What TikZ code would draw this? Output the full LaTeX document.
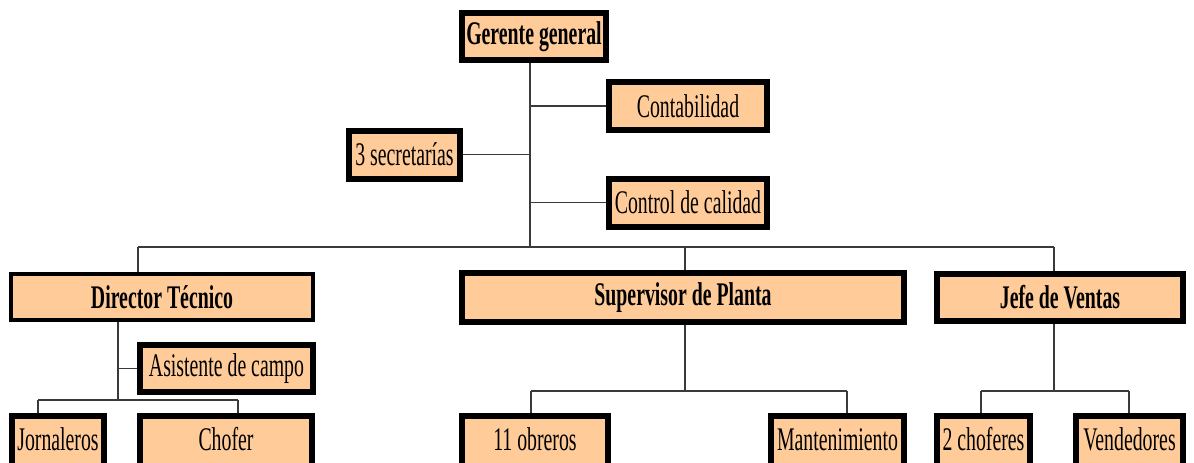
\documentclass[tikz,border=0pt]{standalone}
\usepackage{fontspec}
\setmainfont{Liberation Serif}[FakeStretch=0.6]
\usetikzlibrary{positioning}
\definecolor{peach}{HTML}{FFCC99}
\definecolor{wire}{HTML}{3A3A3A}

\begin{document}
\begin{tikzpicture}[x=1pt, y=-1pt,
block/.style = {draw=black, fill=peach, line width=6pt, rectangle, inner sep=2pt, minimum height=48pt, align=center, font=\fontsize{33}{38}\selectfont},
low/.style = {block, anchor=north, text height=32pt, text depth=30pt},
link/.style = {draw=wire, line width=1.6pt}]
    \useasboundingbox (0,0) rectangle (1194,463);
    % top level
    \node [block, minimum width=144pt, minimum height=47pt] (G) at (534,36.5) {\textbf{Gerente general}};
    \node [block, minimum width=158pt]  (C)  at (688,106)   {Contabilidad};
    \node [block, minimum width=158pt]  (Q)  at (688,202.5) {Control de calidad};
    \node [block, minimum width=111pt]  (S)  at (404.5,154.5) {3 secretarías};
    % departments
    \node [block, line width=4pt, minimum width=302pt, minimum height=46pt] (D) at (162,297) {\textbf{Director Técnico}};
    \node [block, minimum width=442pt, minimum height=49pt] (P) at (683,297.5) {\textbf{Supervisor de Planta}};
    \node [block, minimum width=246pt, minimum height=47pt] (J) at (1060,297.5) {\textbf{Jefe de Ventas}};
    \node [block, minimum width=173pt, minimum height=47pt] (A) at (226.5,368.5) {Asistente de campo};
    % bottom row
    \node [low, minimum width=92pt]   (JO) at (58,413)     {Jornaleros};
    \node [low, minimum width=172pt]  (CH) at (226,413)    {Chofer};
    \node [low, minimum width=146pt]  (OB) at (535,413)    {11 obreros};
    \node [low, minimum width=133pt]  (MA) at (837.5,413)  {Mantenimiento};
    \node [low, minimum width=93pt]   (CF) at (983.5,413)  {2 choferes};
    \node [low, minimum width=107pt]  (VE) at (1129.5,413) {Vendedores};
    % junctions
    \coordinate (bus) at (530,247);
    \coordinate (busL) at (138,247);
    \coordinate (busR) at (1054,247);
    \coordinate (dt) at (118,400);
    \coordinate (dL) at (38,400);
    \coordinate (dR) at (238,400);
    \coordinate (pt) at (685,391);
    \coordinate (pL) at (531,391);
    \coordinate (pR) at (847,391);
    \coordinate (jt) at (1054,391);
    \coordinate (jL) at (981,391);
    \coordinate (jR) at (1129,391);
    \path[link] (G.south -| bus) -- (bus)
                (C.west) -- (C.west -| bus)
                (Q.west) -- (Q.west -| bus)
                (S.east) -- (S.east -| bus)
                (busL) -- (busR)
                (busL) -- (busL |- D.north)
                (pt |- bus) -- (pt |- P.north)
                (busR) -- (busR |- J.north)
                (D.south -| dt) -- (dt)
                (A.west) -- (A.west -| dt)
                (dL) -- (dR)
                (dL) -- (dL |- JO.north)
                (dR) -- (dR |- CH.north)
                (P.south -| pt) -- (pt)
                (pL) -- (pR)
                (pL) -- (pL |- OB.north)
                (pR) -- (pR |- MA.north)
                (J.south -| jt) -- (jt)
                (jL) -- (jR)
                (jL) -- (jL |- CF.north)
                (jR) -- (jR |- VE.north)
                ;
\end{tikzpicture}
\end{document}
